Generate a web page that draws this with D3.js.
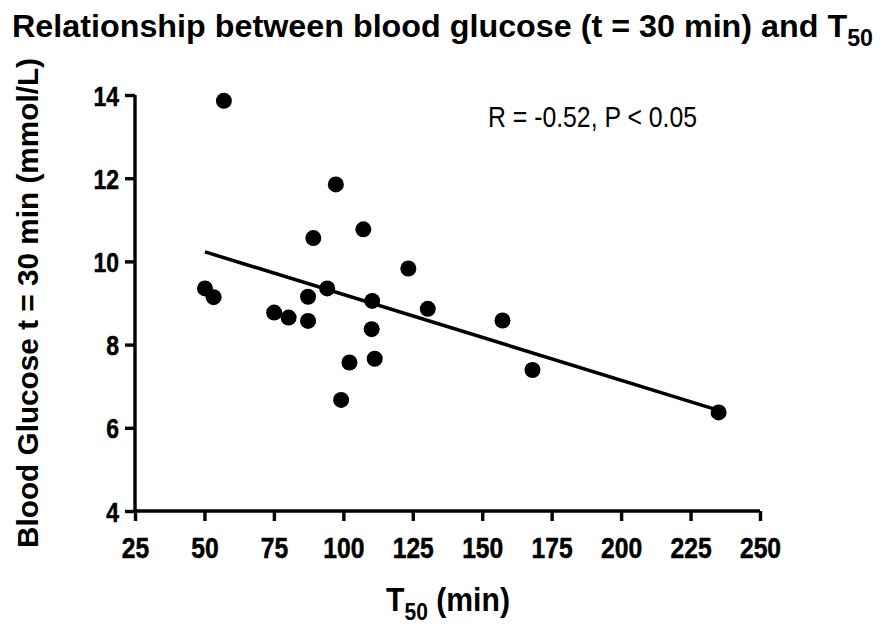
<!DOCTYPE html>
<html><head><meta charset="utf-8">
<script src="https://cdn.jsdelivr.net/npm/d3@7"></script>
<style>
body{margin:0;background:#fff;}
text{font-family:"Liberation Sans",Arial,sans-serif;}
</style></head>
<body><svg id="c" width="894" height="630"></svg>
<script>
const t50 = [50.2, 53.3, 57.0, 75.1, 80.3, 87.3, 87.3, 89.2, 94.2, 97.3, 99.2, 102.2, 107.2, 110.4, 110.2, 111.3, 123.4, 130.4, 157.3, 168.1, 235.1];
const glucose = [9.35, 9.14, 13.86, 8.77, 8.65, 9.15, 8.57, 10.56, 9.35, 11.85, 6.67, 7.57, 10.77, 9.05, 8.37, 7.66, 9.83, 8.86, 8.58, 7.39, 6.37];
const fitX = [50.2, 235.1];
const fitY = [10.23, 6.42];
const xTicks = [25, 50, 75, 100, 125, 150, 175, 200, 225, 250];
const yTicks = [4, 6, 8, 10, 12, 14];
const titleText = "Relationship between blood glucose (t = 30 min) and T";
const statText = "R = -0.52, P < 0.05";

const FONT = '"Liberation Sans",Arial,sans-serif';
const svg = d3.select("#c");
const x = d3.scaleLinear().domain([25, 250]).range([135, 760]);
const y = d3.scaleLinear().domain([4, 14]).range([511, 95]);

// axes
const gx = svg.append("g").attr("transform", "translate(0,511)")
  .call(d3.axisBottom(x).tickValues(xTicks).tickSize(10).tickSizeOuter(0).tickPadding(16));
const gy = svg.append("g").attr("transform", "translate(135,0)")
  .call(d3.axisLeft(y).tickValues(yTicks).tickSize(10).tickSizeOuter(0).tickPadding(6));
[gx, gy].forEach(g => {
  g.selectAll("path,line").attr("stroke", "#000").attr("stroke-width", 3.4);
  g.selectAll("text").attr("fill", "#000").style("font-weight", "bold").style("font-family", FONT)
    .attr("stroke", "#000").attr("stroke-width", 0.5);
});
gx.select(".domain").attr("d", `M${x(25)},0H${x(250)}`);
gy.select(".domain").attr("d", `M0,${y(4)}V${y(14)}`);
gx.selectAll("text").style("font-size", "29px").attr("dy", "0.71em")
  .attr("transform", "scale(0.85,1)");
gy.selectAll("text").style("font-size", "28px").attr("dy", "0.36em")
  .attr("x", 0).attr("transform", "translate(-16,0) scale(0.82,1)");

// regression line
svg.append("line")
  .attr("x1", x(fitX[0])).attr("y1", y(fitY[0]))
  .attr("x2", x(fitX[1])).attr("y2", y(fitY[1]))
  .attr("stroke", "#000").attr("stroke-width", 3.5);

// points
svg.append("g").selectAll("circle").data(t50.map((d, i) => [d, glucose[i]])).join("circle")
  .attr("cx", d => x(d[0])).attr("cy", d => y(d[1])).attr("r", 8).attr("fill", "#000");

// title
const title = svg.append("text").attr("x", 12).attr("y", 37)
  .style("font-size", "32px").style("font-weight", "bold").attr("fill", "#000")
  .attr("textLength", 861).attr("lengthAdjust", "spacingAndGlyphs");
title.append("tspan").text(titleText);
title.append("tspan").attr("dy", 9).style("font-size", "23px").text("50");

// stat
svg.append("text").attr("x", 488).attr("y", 127).style("font-size", "30px").attr("fill", "#000")
  .attr("textLength", 209).attr("lengthAdjust", "spacingAndGlyphs").text(statText);

// x label
const xl = svg.append("text").attr("x", 386).attr("y", 611)
  .style("font-size", "33px").style("font-weight", "bold").attr("fill", "#000")
  .attr("textLength", 124).attr("lengthAdjust", "spacingAndGlyphs");
xl.append("tspan").text("T");
xl.append("tspan").attr("dy", 9).style("font-size", "23px").text("50");
xl.append("tspan").attr("dy", -9).text(" (min)");

// y label
svg.append("text").attr("transform", "translate(38,303) rotate(-90)").attr("text-anchor", "middle")
  .style("font-size", "30px").style("font-weight", "bold").attr("fill", "#000")
  .attr("textLength", 490).attr("lengthAdjust", "spacingAndGlyphs")
  .text("Blood Glucose t = 30 min (mmol/L)");
</script></body></html>
